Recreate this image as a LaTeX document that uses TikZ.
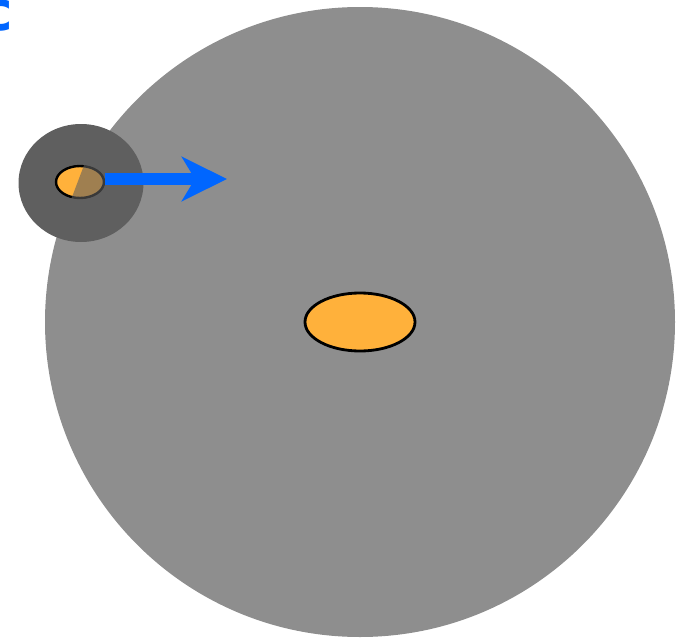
\documentclass[tikz,border=0pt]{standalone}
\usepackage{fontspec}
\newfontfamily\labelfont{DejaVu Sans}
\definecolor{bigGray}{HTML}{8E8E8E}
\definecolor{smallGray}{HTML}{5F5F5F}
\definecolor{sunOrange}{HTML}{FFB13B}
\definecolor{arrowBlue}{HTML}{0066FF}
\tikzset{
  body/.style={draw=black, line width=2.8pt, fill=sunOrange, ellipse},
}
\usetikzlibrary{shapes.geometric,arrows.meta}
\begin{document}
\begin{tikzpicture}[x=1pt,y=-1pt]
\useasboundingbox (0,0) rectangle (686,640);
% big circle
\fill[bigGray] (360,322) circle[radius=315];
% small body
\fill[smallGray] (81,183) ellipse[x radius=62.5, y radius=59];
% central ellipse
\node[body, minimum width=110pt, minimum height=58pt, inner sep=0pt] (star) at (360,322) {};
% small ellipse
\node[body, line width=2.4pt, minimum width=48pt, minimum height=32pt, inner sep=0pt] (planet) at (80,182) {};
% shaded part
\begin{scope}
\clip (80,182) ellipse[x radius=27, y radius=19];
\fill[smallGray, opacity=0.6] (86,160) -- (110,160) -- (110,205) -- (69,205) -- cycle;
\end{scope}
% arrow
\coordinate (tip) at (227,179);
\draw[arrowBlue, line width=12pt, -{Stealth[length=45pt,width=44pt,inset=13pt]}] (planet.east) ++(0,-3) -- (tip);
% label
\node[text=arrowBlue, font=\labelfont\bfseries\fontsize{55}{55}\selectfont, anchor=base east, inner sep=0pt] (lbl) at (13,30) {c};
\end{tikzpicture}
\end{document}
